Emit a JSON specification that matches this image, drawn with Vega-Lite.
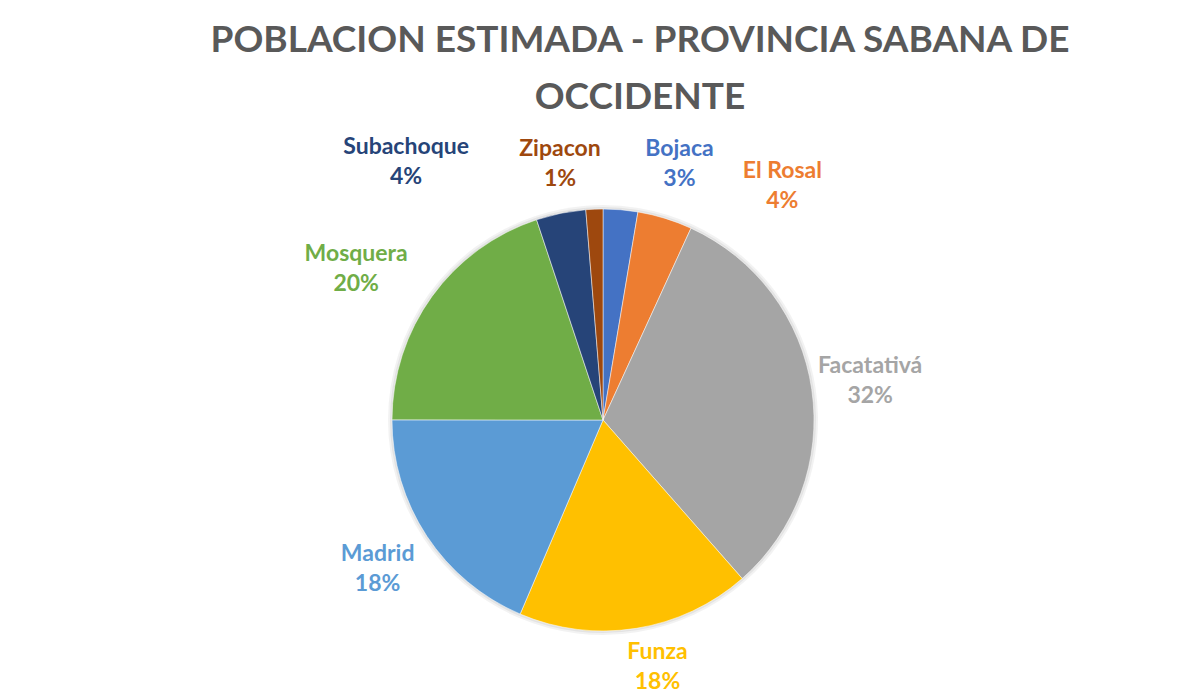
{
  "$schema": "https://vega.github.io/schema/vega-lite/v6.json",
  "width": 1206,
  "height": 600,
  "padding": {"top": 22, "left": 0, "right": 0, "bottom": 0},
  "background": "white",
  "config": {"view": {"stroke": null}},
  "title": {
    "text": ["POBLACION ESTIMADA - PROVINCIA SABANA DE", "OCCIDENTE"],
    "font": "Lato",
    "fontSize": 37,
    "fontWeight": "bold",
    "color": "#595959",
    "lineHeight": 57,
    "anchor": "middle",
    "dx": 37,
    "offset": 3
  },
  "data": {
    "values": [
      {"idx": 1, "Municipio": "Bojaca", "share": 2.65, "label": "Bojaca\n3%"},
      {"idx": 2, "Municipio": "El Rosal", "share": 4.2, "label": "El Rosal\n4%"},
      {"idx": 3, "Municipio": "Facatativá", "share": 31.7, "label": "Facatativá\n32%"},
      {"idx": 4, "Municipio": "Funza", "share": 17.9, "label": "Funza\n18%"},
      {"idx": 5, "Municipio": "Madrid", "share": 18.6, "label": "Madrid\n18%"},
      {"idx": 6, "Municipio": "Mosquera", "share": 19.9, "label": "Mosquera\n20%"},
      {"idx": 7, "Municipio": "Subachoque", "share": 3.8, "label": "Subachoque\n4%"},
      {"idx": 8, "Municipio": "Zipacon", "share": 1.3, "label": "Zipacon\n1%"}
    ]
  },
  "encoding": {
    "theta": {"field": "share", "type": "quantitative", "stack": true},
    "order": {"field": "idx", "type": "quantitative"},
    "color": {
      "field": "Municipio",
      "type": "nominal",
      "legend": null,
      "scale": {
        "domain": ["Bojaca", "El Rosal", "Facatativá", "Funza", "Madrid", "Mosquera", "Subachoque", "Zipacon"],
        "range": ["#4472C4", "#ED7D31", "#A5A5A5", "#FFC000", "#5B9BD5", "#70AD47", "#264478", "#9E480E"]
      }
    }
  },
  "layer": [
    {
      "mark": {"type": "arc", "outerRadius": 215, "opacity": 0.05},
      "encoding": {"color": {"value": "#000000"}}
    },
    {
      "mark": {"type": "arc", "outerRadius": 213, "opacity": 0.06},
      "encoding": {"color": {"value": "#000000"}}
    },
    {
      "mark": {"type": "arc", "outerRadius": 211, "stroke": "white", "strokeWidth": 0.5}
    },
    {
      "mark": {"type": "text", "radius": 270, "dy": -15, "font": "Lato", "fontSize": 23, "fontWeight": "bold", "lineBreak": "\n", "lineHeight": 30, "align": "center", "baseline": "middle"},
      "encoding": {
        "text": {"condition": {"test": "datum.Municipio === 'Facatativá' || datum.Municipio === 'Madrid'", "field": "label"}, "value": ""}
      }
    },
    {
      "mark": {"type": "text", "radius": 250, "dx": 15, "dy": -15, "font": "Lato", "fontSize": 23, "fontWeight": "bold", "lineBreak": "\n", "lineHeight": 30, "align": "center", "baseline": "middle"},
      "encoding": {
        "text": {"condition": {"test": "datum.Municipio === 'Funza'", "field": "label"}, "value": ""}
      }
    },
    {
      "mark": {"type": "text", "radius": 270, "dx": -28, "dy": -8, "font": "Lato", "fontSize": 23, "fontWeight": "bold", "lineBreak": "\n", "lineHeight": 30, "align": "center", "baseline": "middle"},
      "encoding": {
        "text": {"condition": {"test": "datum.Municipio === 'Mosquera'", "field": "label"}, "value": ""}
      }
    },
    {
      "mark": {"type": "text", "radius": 270, "dx": -143, "dy": -8, "font": "Lato", "fontSize": 23, "fontWeight": "bold", "lineBreak": "\n", "lineHeight": 30, "align": "center", "baseline": "middle"},
      "encoding": {
        "text": {"condition": {"test": "datum.Municipio === 'Subachoque'", "field": "label"}, "value": ""}
      }
    },
    {
      "mark": {"type": "text", "radius": 270, "dx": -32, "dy": -1, "font": "Lato", "fontSize": 23, "fontWeight": "bold", "lineBreak": "\n", "lineHeight": 30, "align": "center", "baseline": "middle"},
      "encoding": {
        "text": {"condition": {"test": "datum.Municipio === 'Zipacon'", "field": "label"}, "value": ""}
      }
    },
    {
      "mark": {"type": "text", "radius": 270, "dx": 54, "dy": -2, "font": "Lato", "fontSize": 23, "fontWeight": "bold", "lineBreak": "\n", "lineHeight": 30, "align": "center", "baseline": "middle"},
      "encoding": {
        "text": {"condition": {"test": "datum.Municipio === 'Bojaca'", "field": "label"}, "value": ""}
      }
    },
    {
      "mark": {"type": "text", "radius": 270, "dx": 100, "dy": 9, "font": "Lato", "fontSize": 23, "fontWeight": "bold", "lineBreak": "\n", "lineHeight": 30, "align": "center", "baseline": "middle"},
      "encoding": {
        "text": {"condition": {"test": "datum.Municipio === 'El Rosal'", "field": "label"}, "value": ""}
      }
    }
  ]
}
